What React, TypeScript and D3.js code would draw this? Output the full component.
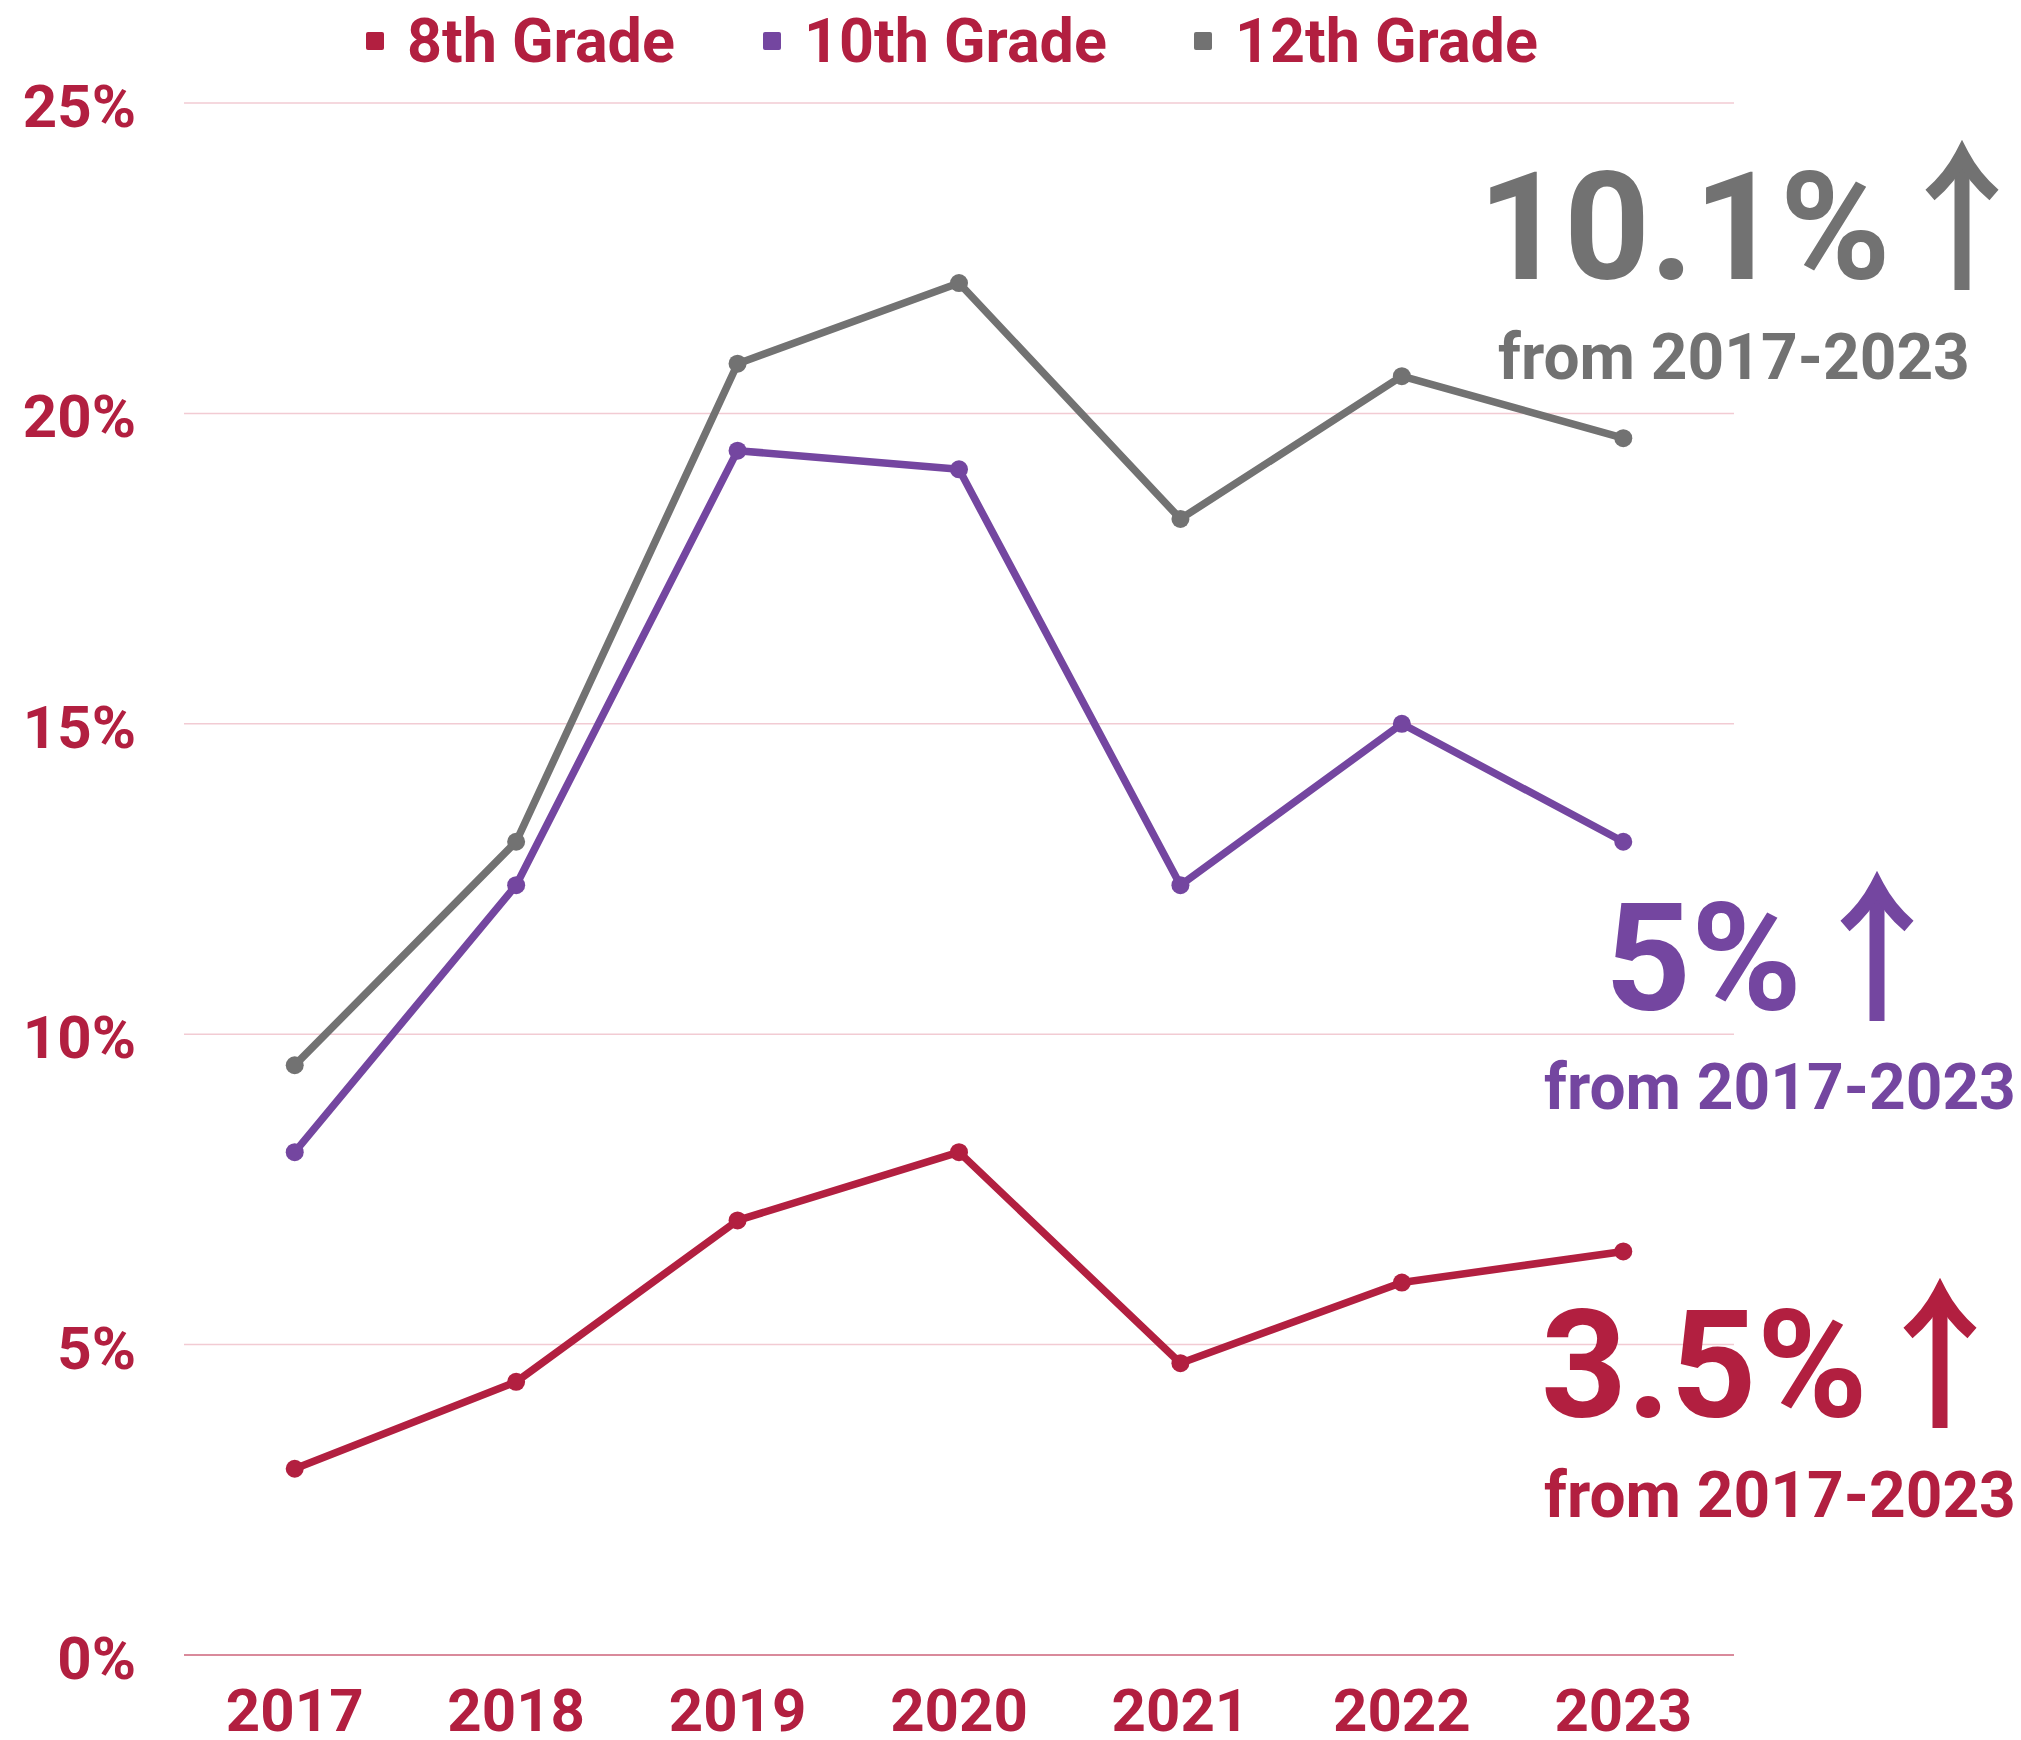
import React from "react";
import * as d3 from "d3";

const years = ["2017", "2018", "2019", "2020", "2021", "2022", "2023"];
const grade8 = [3.0, 4.4, 7.0, 8.1, 4.7, 6.0, 6.5];
const grade10 = [8.1, 12.4, 19.4, 19.1, 12.4, 15.0, 13.1];
const grade12 = [9.5, 13.1, 20.8, 22.1, 18.3, 20.6, 19.6];
const seriesNames = ["8th Grade", "10th Grade", "12th Grade"];
const yTicks = [0, 5, 10, 15, 20, 25];
const changeLabels = ["3.5%", "5%", "10.1%"];
const changeSub = "from 2017-2023";

const W = 2021;
const H = 1740;
const CRIMSON = "#B21F40";
const PURPLE = "#7446A0";
const GRAY = "#727272";
const FONT = "Roboto, 'Noto Sans', sans-serif";

export default function App() {
  const x = d3.scalePoint<string>().domain(years).range([184, 1734]).padding(0.5);
  const y = d3.scaleLinear().domain([0, 25]).range([1655, 103]);
  const line = d3
    .line<number>()
    .x((_, i) => x(years[i]) as number)
    .y((d) => y(d));

  const series = [
    { name: seriesNames[0], values: grade8, color: CRIMSON },
    { name: seriesNames[1], values: grade10, color: PURPLE },
    { name: seriesNames[2], values: grade12, color: GRAY },
  ];

  const legendPos = [
    { sq: 366, tx: 407 },
    { sq: 763, tx: 804 },
    { sq: 1194, tx: 1235 },
  ];

  const annotations = [
    { label: changeLabels[2], color: GRAY, bigX: 1478, bigBase: 279, arrowX: 1962, subX: 1498, subBase: 379 },
    { label: changeLabels[1], color: PURPLE, bigX: 1605, bigBase: 1010, arrowX: 1877, subX: 1544, subBase: 1109 },
    { label: changeLabels[0], color: CRIMSON, bigX: 1541, bigBase: 1417, arrowX: 1940, subX: 1544, subBase: 1517 },
  ];

  return (
    <svg width={W} height={H} style={{ display: "block", position: "absolute", left: 0, top: 0 }} fontFamily={FONT}>
      <rect width={W} height={H} fill="#ffffff" />
      {yTicks.map((t) => (
        <line
          key={t}
          x1={184}
          x2={1734}
          y1={y(t)}
          y2={y(t)}
          stroke={t === 0 ? "#D98A9B" : "#F2CBD3"}
          strokeWidth={t === 0 ? 2 : 1.5}
        />
      ))}
      {yTicks.map((t) => (
        <text
          key={"l" + t}
          x={136}
          y={y(t) + 24}
          textAnchor="end"
          fontSize={60}
          fontWeight={700}
          fill={CRIMSON}
        >
          {t}%
        </text>
      ))}
      {years.map((yr) => (
        <text key={yr} x={x(yr) as number} y={1731} textAnchor="middle" fontSize={60} fontWeight={700} fill={CRIMSON}>
          {yr}
        </text>
      ))}
      {series.map((s) => (
        <g key={s.name}>
          <path d={line(s.values) || ""} fill="none" stroke={s.color} strokeWidth={7.5} strokeLinejoin="round" />
          {s.values.map((v, i) => (
            <circle key={i} cx={x(years[i]) as number} cy={y(v)} r={9} fill={s.color} />
          ))}
        </g>
      ))}
      {series.map((s, i) => (
        <g key={"lg" + s.name}>
          <rect x={legendPos[i].sq} y={32} width={18} height={18} rx={2} fill={s.color} />
          <text x={legendPos[i].tx} y={62} fontSize={61} fontWeight={700} fill={CRIMSON}>
            {s.name}
          </text>
        </g>
      ))}
      {annotations.map((a) => {
        const top = a.bigBase - 126;
        const bottom = a.bigBase + 11;
        const cx = a.arrowX;
        return (
          <g key={a.label}>
            <text x={a.bigX} y={a.bigBase} fontSize={150} fontWeight={700} fill={a.color}>
              {a.label}
            </text>
            <line x1={cx} x2={cx} y1={top + 6} y2={bottom} stroke={a.color} strokeWidth={15} />
            <path
              d={`M${cx - 32},${top + 42} Q${cx - 12},${top + 25} ${cx},${top + 2} Q${cx + 12},${top + 25} ${cx + 32},${top + 42}`}
              fill="none"
              stroke={a.color}
              strokeWidth={14}
            />
            <text x={a.subX} y={a.subBase} fontSize={64} fontWeight={700} fill={a.color}>
              {changeSub}
            </text>
          </g>
        );
      })}
    </svg>
  );
}
